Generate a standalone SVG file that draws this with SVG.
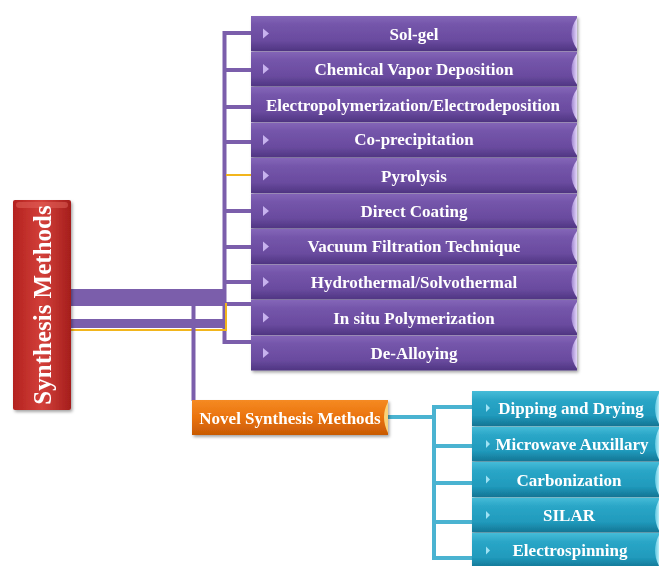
<svg xmlns="http://www.w3.org/2000/svg" width="659" height="566" viewBox="0 0 659 566">
<defs>
<linearGradient id="pg" x1="0" y1="0" x2="0" y2="1">
<stop offset="0" stop-color="#8466b8"/><stop offset="0.25" stop-color="#7455aa"/><stop offset="0.7" stop-color="#6a4b9f"/><stop offset="1" stop-color="#4f3582"/>
</linearGradient>
<linearGradient id="tg" x1="0" y1="0" x2="0" y2="1">
<stop offset="0" stop-color="#46bcd8"/><stop offset="0.25" stop-color="#2aa6c7"/><stop offset="0.7" stop-color="#209abc"/><stop offset="1" stop-color="#147594"/>
</linearGradient>
<linearGradient id="rg" x1="0" y1="0" x2="1" y2="0">
<stop offset="0" stop-color="#b3221f"/><stop offset="0.5" stop-color="#d3403a"/><stop offset="1" stop-color="#a51e1c"/>
</linearGradient>
<linearGradient id="og" x1="0" y1="0" x2="0" y2="1">
<stop offset="0" stop-color="#f58a22"/><stop offset="0.5" stop-color="#ea730e"/><stop offset="1" stop-color="#c85a04"/>
</linearGradient>
<linearGradient id="capP" x1="0" y1="0" x2="1" y2="0">
<stop offset="0" stop-color="#9f86d0"/><stop offset="1" stop-color="#e4d6fb"/>
</linearGradient>
<linearGradient id="capT" x1="0" y1="0" x2="1" y2="0">
<stop offset="0" stop-color="#5cc6e0"/><stop offset="1" stop-color="#b6ecf8"/>
</linearGradient>
<filter id="sh" x="-10%" y="-10%" width="130%" height="130%">
<feDropShadow dx="1.5" dy="2" stdDeviation="1.5" flood-color="#000" flood-opacity="0.35"/>
</filter>
<path id="arrP" d="M0,-5 L6,0 L0,5 Z" fill="#c7b2ee"/>
<path id="arrT" d="M0,-4 L4,0 L0,4 Z" fill="#9fe2f4"/>
</defs>
<style>
.lbl{font-family:"Liberation Serif","Times New Roman",serif;font-weight:bold;fill:#ffffff;}
.pl{font-size:17px;text-anchor:middle;}
.pc{fill:none;stroke:#7b5eab;stroke-width:4;}
.tc{fill:none;stroke:#4ab3d1;stroke-width:4;}
</style>
<rect width="659" height="566" fill="#ffffff"/>

<g id="connectors">
<path class="pc" d="M251,33 H224.5 V342 H251 M224.5,70 H251 M224.5,107 H251 M224.5,142 H251 M224.5,211 H251 M224.5,247 H251 M224.5,282 H251 M224.5,304 H251"/>
<line x1="226" y1="175" x2="251" y2="175" stroke="#f2b51c" stroke-width="2"/>
<rect x="70" y="289" width="156" height="17" fill="#7b5eab"/>
<rect x="70" y="319" width="156" height="9" fill="#7b5eab"/>
<line x1="70" y1="330" x2="227" y2="330" stroke="#f2b51c" stroke-width="2"/>
<line x1="226" y1="303" x2="226" y2="331" stroke="#f2b51c" stroke-width="2"/>
<line x1="193.5" y1="305" x2="193.5" y2="401" stroke="#7b5eab" stroke-width="4"/>
<path class="tc" d="M388,417 H434 M472,407 H434 V558 H472 M434,446 H472 M434,483 H472 M434,522 H472"/>
</g>

<g id="synthesis-methods" filter="url(#sh)">
<rect x="13" y="200" width="58" height="210" rx="2" fill="url(#rg)"/>
<rect x="16" y="202" width="52" height="6" rx="3" fill="#e76a62" opacity="0.45"/>
<text class="lbl" transform="translate(51,305) rotate(-90)" font-size="25" text-anchor="middle">Synthesis Methods</text>
</g>

<g id="novel-synthesis-methods" filter="url(#sh)">
<rect x="192" y="400" width="196" height="35" fill="url(#og)"/>
<path d="M388,402 Q380,417 388,433 Z" fill="#f9d27a"/>
<text class="lbl" x="290" y="423.5" font-size="17" text-anchor="middle">Novel Synthesis Methods</text>
</g>

<g id="sol-gel" filter="url(#sh)">
<rect x="251" y="16" width="326" height="35" fill="url(#pg)"/>
<path d="M577,18 Q566,33.5 577,49 Z" fill="url(#capP)"/>
<use href="#arrP" x="263" y="33.5"/>
<text class="lbl pl" x="414" y="39.5">Sol-gel</text>
</g>
<g id="cvd" filter="url(#sh)">
<rect x="251" y="51.5" width="326" height="35" fill="url(#pg)"/>
<path d="M577,53.5 Q566,69 577,84.5 Z" fill="url(#capP)"/>
<use href="#arrP" x="263" y="69"/>
<text class="lbl pl" x="414" y="75">Chemical Vapor Deposition</text>
</g>
<g id="electropolymerization" filter="url(#sh)">
<rect x="251" y="87" width="326" height="35" fill="url(#pg)"/>
<path d="M577,89 Q566,104.5 577,120 Z" fill="url(#capP)"/>
<text class="lbl pl" x="413" y="110.5">Electropolymerization/Electrodeposition</text>
</g>
<g id="co-precipitation" filter="url(#sh)">
<rect x="251" y="122.5" width="326" height="35" fill="url(#pg)"/>
<path d="M577,124.5 Q566,140 577,155.5 Z" fill="url(#capP)"/>
<use href="#arrP" x="263" y="140"/>
<text class="lbl pl" x="414" y="144.5">Co-precipitation</text>
</g>
<g id="pyrolysis" filter="url(#sh)">
<rect x="251" y="158" width="326" height="35" fill="url(#pg)"/>
<path d="M577,160 Q566,175.5 577,191 Z" fill="url(#capP)"/>
<use href="#arrP" x="263" y="175.5"/>
<text class="lbl pl" x="414" y="181.5">Pyrolysis</text>
</g>
<g id="direct-coating" filter="url(#sh)">
<rect x="251" y="193.5" width="326" height="35" fill="url(#pg)"/>
<path d="M577,195.5 Q566,211 577,226.5 Z" fill="url(#capP)"/>
<use href="#arrP" x="263" y="211"/>
<text class="lbl pl" x="414" y="217">Direct Coating</text>
</g>
<g id="vacuum-filtration" filter="url(#sh)">
<rect x="251" y="229" width="326" height="35" fill="url(#pg)"/>
<path d="M577,231 Q566,246.5 577,262 Z" fill="url(#capP)"/>
<use href="#arrP" x="263" y="246.5"/>
<text class="lbl pl" x="414" y="251.5">Vacuum Filtration Technique</text>
</g>
<g id="hydrothermal" filter="url(#sh)">
<rect x="251" y="264.5" width="326" height="35" fill="url(#pg)"/>
<path d="M577,266.5 Q566,282 577,297.5 Z" fill="url(#capP)"/>
<use href="#arrP" x="263" y="282"/>
<text class="lbl pl" x="414" y="288">Hydrothermal/Solvothermal</text>
</g>
<g id="in-situ-polymerization" filter="url(#sh)">
<rect x="251" y="300" width="326" height="35" fill="url(#pg)"/>
<path d="M577,302 Q566,317.5 577,333 Z" fill="url(#capP)"/>
<use href="#arrP" x="263" y="317.5"/>
<text class="lbl pl" x="414" y="323.5">In situ Polymerization</text>
</g>
<g id="de-alloying" filter="url(#sh)">
<rect x="251" y="335.5" width="326" height="35" fill="url(#pg)"/>
<path d="M577,337.5 Q566,353 577,368.5 Z" fill="url(#capP)"/>
<use href="#arrP" x="263" y="353"/>
<text class="lbl pl" x="414" y="359">De-Alloying</text>
</g>

<g id="dipping-and-drying" filter="url(#sh)">
<rect x="472" y="391" width="200" height="35" fill="url(#tg)"/>
<path d="M659,393 Q651,408.5 659,424 Z" fill="url(#capT)"/>
<use href="#arrT" x="486" y="408"/>
<text class="lbl pl" x="571" y="413.5">Dipping and Drying</text>
</g>
<g id="microwave-auxillary" filter="url(#sh)">
<rect x="472" y="426.5" width="200" height="35" fill="url(#tg)"/>
<path d="M659,428.5 Q651,444 659,459.5 Z" fill="url(#capT)"/>
<use href="#arrT" x="486" y="444"/>
<text class="lbl pl" x="572" y="449.5">Microwave Auxillary</text>
</g>
<g id="carbonization" filter="url(#sh)">
<rect x="472" y="462" width="200" height="35" fill="url(#tg)"/>
<path d="M659,464 Q651,479.5 659,495 Z" fill="url(#capT)"/>
<use href="#arrT" x="486" y="479.5"/>
<text class="lbl pl" x="569" y="485.5">Carbonization</text>
</g>
<g id="silar" filter="url(#sh)">
<rect x="472" y="497.5" width="200" height="35" fill="url(#tg)"/>
<path d="M659,499.5 Q651,515 659,530.5 Z" fill="url(#capT)"/>
<use href="#arrT" x="486" y="515"/>
<text class="lbl pl" x="569" y="521">SILAR</text>
</g>
<g id="electrospinning" filter="url(#sh)">
<rect x="472" y="533" width="200" height="35" fill="url(#tg)"/>
<path d="M659,535 Q651,550.5 659,566 Z" fill="url(#capT)"/>
<use href="#arrT" x="486" y="550.5"/>
<text class="lbl pl" x="570" y="556">Electrospinning</text>
</g>
</svg>
